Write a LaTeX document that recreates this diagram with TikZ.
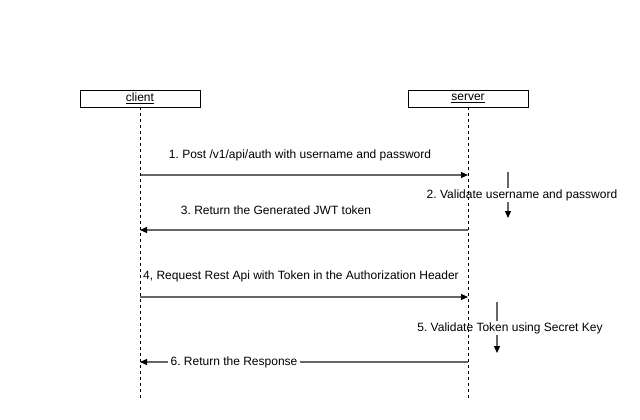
\documentclass[tikz,border=0pt]{standalone}
\usepackage{fontspec}
\setmainfont{Liberation Sans}
\usetikzlibrary{arrows.meta}
\frenchspacing
\begin{document}
\begin{tikzpicture}[x=1pt,y=-1pt,
  actor/.style={draw=black,line width=0.8pt,minimum width=120pt,minimum height=17pt,inner sep=0pt,font=\fontsize{12}{14}\selectfont},
  lifeline/.style={draw=black,line width=0.6pt,dash pattern=on 3pt off 3pt},
  msg/.style={draw=black!60,line width=1.2pt,-{Triangle[length=7pt,width=6pt,fill=black,color=black]}},
  lbl/.style={font=\fontsize{12}{14}\selectfont\frenchspacing,inner sep=1pt},
  lblw/.style={lbl,fill=white}]
\useasboundingbox (0,0) rectangle (640,420);
\node[actor] (client) at (140,98.5) {\underline{client}};
\node[actor] (server) at (468,98.5) {\underline{server}};
\coordinate (cend) at (140,400);
\coordinate (send) at (468,400);
% message 1
\coordinate (c1) at (140,175);
\coordinate (s1) at (468,175);
\draw[msg] (c1) -- (s1);
\node[lbl] (l1) at (300,155) {1. Post /v1/api/auth with username and password};
% self 2
\coordinate (v2a) at (508,172);
\coordinate (v2b) at (508,218);
\draw[msg] (v2a) -- (v2b);
\node[lblw] (l2) at (522,195) {2. Validate username and password};
% message 3
\coordinate (s3) at (468,230);
\coordinate (c3) at (140,230);
\draw[msg] (s3) -- (c3);
\node[lbl] (l3) at (276,210) {3. Return the Generated JWT token};
% message 4
\coordinate (c4) at (140,297);
\coordinate (s4) at (468,297);
\draw[msg] (c4) -- (s4);
\node[lbl] (l4) at (301,276) {4, Request Rest Api with Token in the Authorization Header};
% self 5
\coordinate (v5a) at (497,302);
\coordinate (v5b) at (497,353);
\draw[msg] (v5a) -- (v5b);
\node[lblw] (l5) at (510,328) {5. Validate Token using Secret Key};
% message 6
\coordinate (s6) at (468,362);
\coordinate (c6) at (140,362);
\draw[msg] (s6) -- (c6);
\node[lblw,inner xsep=3pt] (l6) at (234,362) {6. Return the Response};
% lifelines
\draw[lifeline] (client.south) -- (cend);
\draw[lifeline] (server.south) -- (send);
\end{tikzpicture}
\end{document}
